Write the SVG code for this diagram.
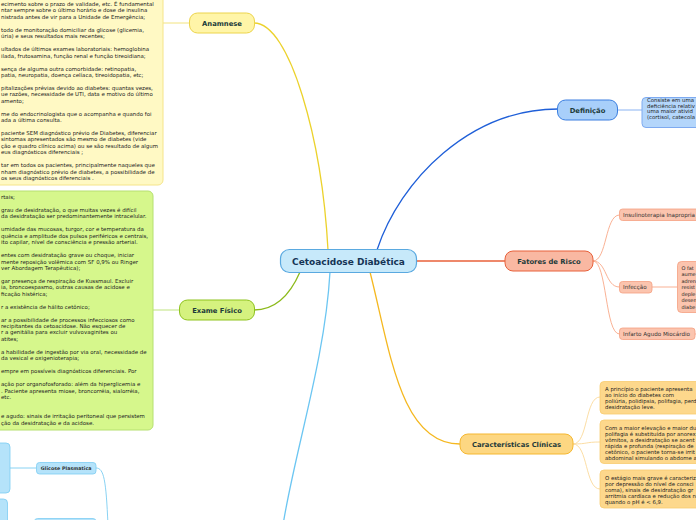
<svg xmlns="http://www.w3.org/2000/svg" width="696" height="520" viewBox="0 0 696 520">
<style>
.t{font-family:"DejaVu Sans",Verdana,sans-serif;font-size:5.45px;fill:#222}
.r{font-family:"DejaVu Sans",Verdana,sans-serif;font-size:5.4px;fill:#222}
.q{font-family:"DejaVu Sans",Verdana,sans-serif;font-size:5px;fill:#222}
.lb{font-family:"DejaVu Sans",Verdana,sans-serif;font-weight:bold;font-size:6.8px;fill:#1d3b3a;text-anchor:middle}
.sm{font-family:"DejaVu Sans",Verdana,sans-serif;font-size:5.6px;fill:#333}
.c{fill:none;stroke-width:1.3}
.cs{fill:none;stroke-width:0.9}
</style>
<rect width="696" height="520" fill="#ffffff"/>

<g id="connectors">
  <path class="c" d="M254,23 C290,23 322,140 328,250" stroke="#ecd22c"/>
  <path class="c" d="M377,250 C400,180 470,109 558,109" stroke="#1f5fd8"/>
  <path class="c" d="M417,261 L505,261" stroke="#e8603a"/>
  <path class="c" d="M300,272 C290,295 275,310 254,310" stroke="#8cba1a"/>
  <path class="c" d="M330,272 C325,360 295,450 283,525" stroke="#6cc6f2"/>
  <path class="c" d="M370,272 C390,350 400,444 460,444" stroke="#f5b820"/>
  <path class="cs" d="M163,23 L189.5,23" stroke="#f0e070"/>
  <path class="cs" d="M153,310 L179.5,310" stroke="#b8e070"/>
  <path class="cs" d="M617.5,110 L642,110" stroke="#7eaaf0"/>
  <path class="cs" d="M593,261 C607,261 605,215 619.5,215" stroke="#f8a888"/>
  <path class="cs" d="M593,261 C607,261 605,287 619.5,287" stroke="#f8a888"/>
  <path class="cs" d="M593,261 C607,261 605,334 619.5,334" stroke="#f8a888"/>
  <path class="cs" d="M652,287 L677.5,287" stroke="#f8a888"/>
  <path class="cs" d="M695,334 L700,334" stroke="#f8a888"/>
  <path class="cs" d="M573,444 C588,444 585,397 600,397" stroke="#fbd99a"/>
  <path class="cs" d="M573,444 C588,444 585,442 600,442" stroke="#fbd99a"/>
  <path class="cs" d="M573,444 C588,444 585,489 600,489" stroke="#fbd99a"/>
  <path class="cs" d="M10,468 L36.5,468" stroke="#7ccdf2"/>
  <path class="cs" d="M96,468 C104,468 106,480 108,525" stroke="#7ccdf2"/>
</g>

<g id="anamnese-text">
  <rect x="-10" y="-8" width="173" height="193" rx="5" fill="#fff9c4" stroke="#f5e48a" stroke-width="1"/>
  <text class="t" x="1" y="6">ecimento sobre o prazo de validade, etc. É fundamental</text>
  <text class="t" x="1" y="12.45">ntar sempre sobre o último horário e dose de insulina</text>
  <text class="t" x="1" y="18.9">nistrada antes de vir para a Unidade de Emergência;</text>
  <text class="t" x="1" y="31.8">todo de monitoração domiciliar da glicose (glicemia,</text>
  <text class="t" x="1" y="38.25">úria) e seus resultados mais recentes;</text>
  <text class="t" x="1" y="51.15">ultados de últimos exames laboratoriais: hemoglobina</text>
  <text class="t" x="1" y="57.6">ilada, frutosamina, função renal e função tireoidiana;</text>
  <text class="t" x="1" y="70.5">sença de alguma outra comorbidade: retinopatia,</text>
  <text class="t" x="1" y="76.95">patia, neuropatia, doença celíaca, tireoidopatia, etc;</text>
  <text class="t" x="1" y="89.85">pitalizações prévias devido ao diabetes: quantas vezes,</text>
  <text class="t" x="1" y="96.3">ue razões, necessidade de UTI, data e motivo do último</text>
  <text class="t" x="1" y="102.75">amento;</text>
  <text class="t" x="1" y="115.65">me do endocrinologista que o acompanha e quando foi</text>
  <text class="t" x="1" y="122.1">ada a última consulta.</text>
  <text class="t" x="1" y="135">paciente SEM diagnóstico prévio de Diabetes, diferenciar</text>
  <text class="t" x="1" y="141.45">sintomas apresentados são mesmo de diabetes (vide</text>
  <text class="t" x="1" y="147.9">ção e quadro clínico acima) ou se são resultado de algum</text>
  <text class="t" x="1" y="154.35">eus diagnósticos diferenciais ;</text>
  <text class="t" x="1" y="167.25">tar em todos os pacientes, principalmente naqueles que</text>
  <text class="t" x="1" y="173.7">nham diagnóstico prévio de diabetes, a possibilidade de</text>
  <text class="t" x="1" y="180.15">os seus diagnósticos diferenciais .</text>
</g>

<g id="anamnese">
  <rect x="189.5" y="13" width="65" height="20" rx="8" fill="#fff5a8" stroke="#ecd44c" stroke-width="1"/>
  <text class="lb" x="222" y="25.5">Anamnese</text>
</g>

<g id="exame-text">
  <rect x="-10" y="191" width="163" height="239" rx="5" fill="#d6f78c" stroke="#b6e070" stroke-width="1"/>
  <text class="t" x="1" y="199">rtais;</text>
  <text class="t" x="1" y="211.9">grau de desidratação, o que muitas vezes é difícil</text>
  <text class="t" x="1" y="218.35">da desidratação ser predominantemente intracelular.</text>
  <text class="t" x="1" y="231.25">umidade das mucosas, turgor, cor e temperatura da</text>
  <text class="t" x="1" y="237.7">quência e amplitude dos pulsos periféricos e centrais,</text>
  <text class="t" x="1" y="244.15">ito capilar, nível de consciência e pressão arterial.</text>
  <text class="t" x="1" y="257.05">entes com desidratação grave ou choque, iniciar</text>
  <text class="t" x="1" y="263.5">mente reposição volêmica com SF 0,9% ou Ringer</text>
  <text class="t" x="1" y="269.95">ver Abordagem Terapêutica);</text>
  <text class="t" x="1" y="282.85">gar presença de respiração de Kussmaul. Excluir</text>
  <text class="t" x="1" y="289.3">ia, broncoespasmo, outras causas de acidose e</text>
  <text class="t" x="1" y="295.75">ficação histérica;</text>
  <text class="t" x="1" y="308.65">r a existência de hálito cetônico;</text>
  <text class="t" x="1" y="321.55">ar a possibilidade de processos infecciosos como</text>
  <text class="t" x="1" y="328">recipitantes da cetoacidose. Não esquecer de</text>
  <text class="t" x="1" y="334.45">r a genitália para excluir vulvovaginites ou</text>
  <text class="t" x="1" y="340.9">atites;</text>
  <text class="t" x="1" y="353.8">a habilidade de ingestão por via oral, necessidade de</text>
  <text class="t" x="1" y="360.25">da vesical e oxigenioterapia;</text>
  <text class="t" x="1" y="373.15">empre em possíveis diagnósticos diferenciais. Por</text>
  <text class="t" x="1" y="386.05">ação por organofosforado: além da hiperglicemia e</text>
  <text class="t" x="1" y="392.5">. Paciente apresenta miose, broncorréia, sialorréia,</text>
  <text class="t" x="1" y="398.95">etc.</text>
  <text class="t" x="1" y="418.3">e agudo: sinais de irritação peritoneal que persistem</text>
  <text class="t" x="1" y="424.75">ção da desidratação e da acidose.</text>
</g>

<g id="exame-fisico">
  <rect x="179.5" y="300" width="75" height="20" rx="8" fill="#d5f27f" stroke="#8fc31f" stroke-width="1"/>
  <text class="lb" x="217" y="312.5">Exame Físico</text>
</g>

<g id="central">
  <rect x="280.5" y="249.5" width="136" height="23" rx="9" fill="#c7e9fa" stroke="#5aa9e0" stroke-width="1.2"/>
  <text x="348.5" y="264.8" font-family="DejaVu Sans, Verdana, sans-serif" font-weight="bold" font-size="9px" fill="#153455" text-anchor="middle">Cetoacidose Diabética</text>
</g>

<g id="definicao">
  <rect x="557.5" y="100" width="60" height="20" rx="8" fill="#a8cffa" stroke="#3c7fe0" stroke-width="1"/>
  <text class="lb" x="587.5" y="112.5">Definição</text>
</g>
<g id="definicao-text">
  <rect x="642" y="97.5" width="80" height="30" rx="4" fill="#b4d6fb" stroke="#7eaaf0" stroke-width="1"/>
  <text class="r" x="647" y="102">Consiste em uma</text>
  <text class="r" x="647" y="107.7">deficiência relativ</text>
  <text class="r" x="647" y="113.4">uma maior ativid</text>
  <text class="r" x="647" y="119.1">(cortisol, catecola</text>
</g>

<g id="fatores">
  <rect x="505" y="251" width="88" height="20" rx="8" fill="#f9b8a2" stroke="#e8603a" stroke-width="1"/>
  <text class="lb" x="549" y="263.5">Fatores de Risco</text>
</g>
<g id="insulinoterapia">
  <rect x="619.5" y="209" width="90" height="11.5" rx="3" fill="#fbc4ae" stroke="#f5a080" stroke-width="0.8"/>
  <text class="sm" x="623" y="216.8">Insulinoterapia Inapropria</text>
</g>
<g id="infeccao">
  <rect x="619.5" y="281.5" width="32.5" height="11.5" rx="3" fill="#fbc4ae" stroke="#f5a080" stroke-width="0.8"/>
  <text class="sm" x="623" y="289.3">Infecção</text>
</g>
<g id="infeccao-text">
  <rect x="677.5" y="261.5" width="40" height="51" rx="4" fill="#fbc4ae" stroke="#f5a080" stroke-width="0.8"/>
  <text class="q" x="681.5" y="269.5">O fat</text>
  <text class="q" x="681.5" y="276">aume</text>
  <text class="q" x="681.5" y="282.5">adren</text>
  <text class="q" x="681.5" y="289">resist</text>
  <text class="q" x="681.5" y="295.5">deple</text>
  <text class="q" x="681.5" y="302">desen</text>
  <text class="q" x="681.5" y="308.5">diabe</text>
</g>
<g id="infarto">
  <rect x="619.5" y="328" width="75.5" height="11.5" rx="3" fill="#fbc4ae" stroke="#f5a080" stroke-width="0.8"/>
  <text class="sm" x="623" y="335.8">Infarto Agudo Miocárdio</text>
</g>

<g id="caracteristicas">
  <rect x="460" y="434" width="113" height="20" rx="8" fill="#fdd782" stroke="#f5b730" stroke-width="1"/>
  <text class="lb" x="516.5" y="446.5">Características Clínicas</text>
</g>
<g id="clinica-1">
  <rect x="600" y="381.5" width="110" height="32.5" rx="4" fill="#fdd88c" stroke="#f7cc70" stroke-width="0.8"/>
  <text class="r" x="605" y="391">A princípio o paciente apresenta</text>
  <text class="r" x="605" y="397">ao início do diabetes com</text>
  <text class="r" x="605" y="403">poliúria, polidipsia, polifagia, perd</text>
  <text class="r" x="605" y="409">desidratação leve.</text>
</g>
<g id="clinica-2">
  <rect x="600" y="420" width="110" height="43.5" rx="4" fill="#fdd88c" stroke="#f7cc70" stroke-width="0.8"/>
  <text class="r" x="605" y="429.5">Com a maior elevação e maior du</text>
  <text class="r" x="605" y="435.6">polifagia é substituída por anorex</text>
  <text class="r" x="605" y="441.7">vômitos, a desidratação se acent</text>
  <text class="r" x="605" y="447.8">rápida e profunda (respiração de</text>
  <text class="r" x="605" y="453.9">cetônico, o paciente torna-se irrit</text>
  <text class="r" x="605" y="460">abdominal simulando o abdome a</text>
</g>
<g id="clinica-3">
  <rect x="600" y="470" width="110" height="38" rx="4" fill="#fdd88c" stroke="#f7cc70" stroke-width="0.8"/>
  <text class="r" x="605" y="479.5">O estágio mais grave é caracteriz</text>
  <text class="r" x="605" y="485.6">por depressão do nível de consci</text>
  <text class="r" x="605" y="491.7">coma), sinais de desidratação gr</text>
  <text class="r" x="605" y="497.8">arritmia cardíaca e redução dos n</text>
  <text class="r" x="605" y="503.9">quando o pH é &lt; 6,9.</text>
</g>

<g id="glicose-box">
  <rect x="-10" y="443" width="20" height="50" rx="4" fill="#b5e3fa" stroke="#7ccdf2" stroke-width="0.8"/>
</g>
<g id="box-bottom-left">
  <rect x="-10" y="499" width="17.5" height="30" rx="4" fill="#b5e3fa" stroke="#7ccdf2" stroke-width="0.8"/>
</g>
<g id="glicose-plasmatica">
  <rect x="36.5" y="462.5" width="59.5" height="11.5" rx="3" fill="#b5e3fa" stroke="#7ccdf2" stroke-width="0.8"/>
  <text x="66.2" y="470.1" font-family="DejaVu Sans, Verdana, sans-serif" font-weight="bold" font-size="4.8px" fill="#333" text-anchor="middle">Glicose Plasmatica</text>
</g>
<g id="node-bottom">
  <rect x="34.5" y="518.5" width="61.5" height="11.5" rx="3" fill="#b5e3fa" stroke="#7ccdf2" stroke-width="0.8"/>
</g>
</svg>
